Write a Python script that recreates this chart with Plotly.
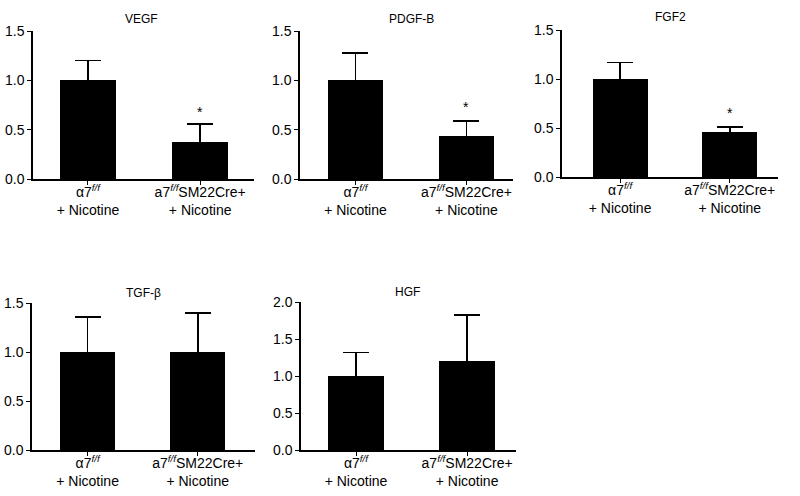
import plotly.graph_objects as go

# ---- data ----
panel_titles = ["VEGF", "PDGF-B", "FGF2", "TGF-β", "HGF"]
categories = ["α7<sup><i>f/f</i></sup><br>+ Nicotine",
              "a7<sup><i>f/f</i></sup>SM22Cre+<br>+ Nicotine"]
vegf_mean = [1.00, 0.38]
vegf_sem = [0.20, 0.18]
pdgfb_mean = [1.00, 0.44]
pdgfb_sem = [0.28, 0.15]
fgf2_mean = [1.00, 0.46]
fgf2_sem = [0.17, 0.05]
tgfb_mean = [1.00, 1.00]
tgfb_sem = [0.36, 0.40]
hgf_mean = [1.00, 1.20]
hgf_sem = [0.32, 0.63]
signif = [["", "*"], ["", "*"], ["", "*"], ["", ""], ["", ""]]
star_y = [0.68, 0.73, 0.65, 0, 0]
y_max = [1.5, 1.5, 1.5, 1.5, 2.0]
y_dtick = [0.5, 0.5, 0.5, 0.5, 0.5]

means = [vegf_mean, pdgfb_mean, fgf2_mean, tgfb_mean, hgf_mean]
sems = [vegf_sem, pdgfb_sem, fgf2_sem, tgfb_sem, hgf_sem]

# ---- layout geometry (pixels in 800x496) ----
W, H = 800, 496
x_pix = [(33, 254), (300, 513), (562, 778), (32, 255), (301, 516)]
y_pix = [(179, 31), (179, 31), (177, 30), (450, 303.3), (450, 302.3)]
x_ranges = [(-0.49, 1.48), (-0.5, 1.42), (-0.53, 1.44), (-0.505, 1.52), (-0.495, 1.44)]
title_pos = [(141, 19), (411, 19), (670, 17), (143, 293), (407, 292)]

FONT = "Arial, Liberation Sans, Helvetica, sans-serif"

fig = go.Figure()
layout = dict(
    width=W, height=H,
    margin=dict(l=0, r=0, t=0, b=0, pad=0, autoexpand=False),
    paper_bgcolor="white", plot_bgcolor="white",
    showlegend=False,
    font=dict(family=FONT, color="black"),
    annotations=[],
    bargap=0,
)

for i in range(5):
    n = "" if i == 0 else str(i + 1)
    xa, ya = "x" + n, "y" + n
    fig.add_trace(go.Bar(
        x=[0, 1], y=means[i], width=0.5,
        xaxis=xa, yaxis=ya,
        marker=dict(color="black", line=dict(width=0)),
        error_y=dict(type="data", symmetric=False, array=sems[i],
                     arrayminus=means[i], color="black", thickness=1.6, width=13),
        hoverinfo="skip",
    ))
    x0, x1 = x_pix[i]
    yb, yt = y_pix[i]
    layout["xaxis" + n] = dict(
        domain=[x0 / W, x1 / W], range=list(x_ranges[i]),
        anchor=ya, tickmode="array", tickvals=[0, 1], ticktext=categories,
        showline=True, linecolor="black", linewidth=1.5,
        ticks="outside", ticklen=4, tickwidth=1.2, tickcolor="black",
        ticklabelstandoff=-5,
        showgrid=False, zeroline=False, fixedrange=True, automargin=False,
        tickfont=dict(size=14, family=FONT, color="black"),
    )
    layout["yaxis" + n] = dict(
        domain=[1 - yb / H, 1 - yt / H], range=[0, y_max[i]],
        anchor=xa, dtick=y_dtick[i], tick0=0, tickformat=".1f",
        showline=True, linecolor="black", linewidth=1.5,
        ticks="outside", ticklen=4, tickwidth=1.2, tickcolor="black",
        showgrid=False, zeroline=False, fixedrange=True, automargin=False,
        tickfont=dict(size=14, family=FONT, color="black"),
    )
    tx, ty = title_pos[i]
    layout["annotations"].append(dict(
        text=panel_titles[i], xref="paper", yref="paper",
        x=tx / W, y=1 - ty / H, xanchor="center", yanchor="middle",
        showarrow=False, font=dict(size=12, family=FONT, color="black"),
    ))
    for j, s in enumerate(signif[i]):
        if s:
            layout["annotations"].append(dict(
                text=s, xref=xa, yref=ya, x=j, y=star_y[i],
                xanchor="center", yanchor="middle", showarrow=False,
                font=dict(size=14, family=FONT, color="black"),
            ))

fig.update_layout(**layout)
fig.write_html("out.html", config={"displayModeBar": False},
               post_script="document.body.style.margin='0';document.body.style.padding='0';")
